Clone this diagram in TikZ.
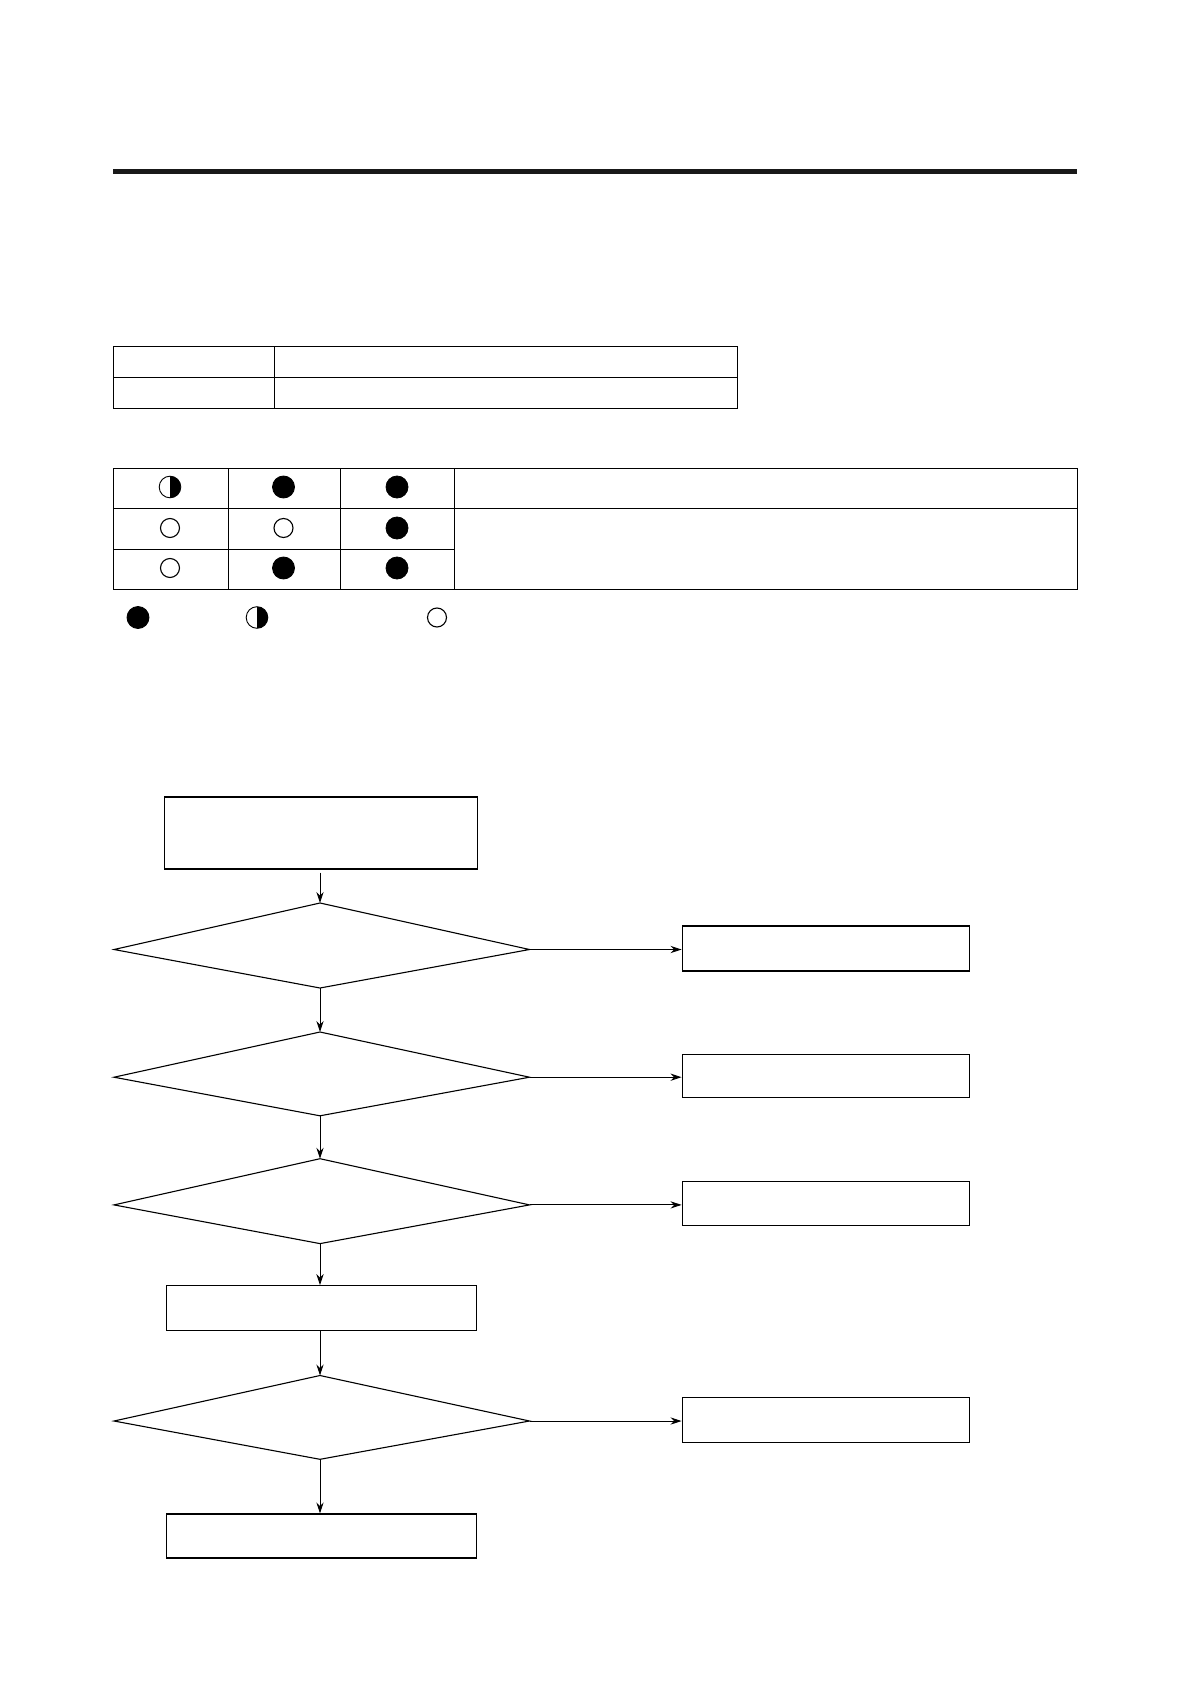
\documentclass[tikz,border=0pt]{standalone}
\usetikzlibrary{arrows.meta}
\begin{document}
\begin{tikzpicture}[x=0.5pt,y=-0.5pt,
  tline/.style={line width=0.5pt},
  fbox/.style={draw,line width=0.55pt,inner sep=0pt,rectangle},
  arr/.style={line width=0.45pt,-{Stealth[length=5.5pt,width=3.6pt]}},
  fdot/.style={circle,fill=black,draw=black,line width=0.4pt,minimum size=11pt,inner sep=0pt},
  odot/.style={circle,draw=black,line width=0.55pt,minimum size=9.5pt,inner sep=0pt},
  hdot/.style={circle,draw=black,line width=0.45pt,minimum size=10.8pt,inner sep=0pt,
    path picture={\fill[black] (path picture bounding box.north) rectangle (path picture bounding box.south east);}}
]
\useasboundingbox (0,0) rectangle (1191,1684);
% top rule
\fill[black!90] (113,169) rectangle (1077,174.5);
% table 1
\draw[tline] (113,347) rectangle (737,409);
\draw[tline] (113,378) -- (737,378);
\draw[tline] (274,347) -- (274,409);
% table 2
\draw[tline] (113,468) rectangle (1077,589);
\draw[tline] (113,508) -- (1077,508);
\draw[tline] (113,549) -- (454,549);
\draw[tline] (228,468) -- (228,589);
\draw[tline] (340,468) -- (340,589);
\draw[tline] (454,468) -- (454,589);
% symbols
\node[hdot] (c11) at (170,487) {};
\node[fdot] (c12) at (283.5,487) {};
\node[fdot] (c13) at (397,487) {};
\node[odot] (c21) at (170,528) {};
\node[odot] (c22) at (283.5,528) {};
\node[fdot] (c23) at (397,528) {};
\node[odot] (c31) at (170,568) {};
\node[fdot] (c32) at (283.5,568) {};
\node[fdot] (c33) at (397,568) {};
% legend
\node[fdot] (l1) at (138,617.5) {};
\node[hdot] (l2) at (257,617.5) {};
\node[odot] (l3) at (437,617.5) {};
% flowchart boxes
\node[fbox,minimum width=156.8pt,minimum height=36pt] (b1) at (321.1,833) {};
\node[fbox,minimum width=155.2pt,minimum height=22.5pt] (b2) at (321.6,1308.2) {};
\node[fbox,minimum width=155.2pt,minimum height=22pt] (b3) at (321.6,1536) {};
\node[fbox,minimum width=143.8pt,minimum height=22.5pt] (r1) at (825.9,948.5) {};
\node[fbox,minimum width=143.8pt,minimum height=21.5pt] (r2) at (825.9,1076) {};
\node[fbox,minimum width=143.8pt,minimum height=22pt] (r3) at (825.9,1203.3) {};
\node[fbox,minimum width=143.8pt,minimum height=22.5pt] (r4) at (825.9,1419.7) {};
% diamonds
\coordinate (d1t) at (320,903);    \coordinate (d1r) at (529.5,949.5);
\coordinate (d1b) at (320,988);    \coordinate (d1l) at (114,949.5);
\coordinate (d2t) at (320,1032);   \coordinate (d2r) at (529.5,1077.2);
\coordinate (d2b) at (320,1115.8); \coordinate (d2l) at (114,1077.2);
\coordinate (d3t) at (320,1158.7); \coordinate (d3r) at (529.5,1204.9);
\coordinate (d3b) at (320,1243.6); \coordinate (d3l) at (114,1204.9);
\coordinate (d4t) at (320,1375.5); \coordinate (d4r) at (529.5,1421);
\coordinate (d4b) at (320,1459.3); \coordinate (d4l) at (114,1421);
\foreach \d in {d1,d2,d3,d4}{
  \draw[line width=0.55pt,line join=miter] (\d t) -- (\d r) -- (\d b) -- (\d l) -- cycle;
}
% connectors
\draw[arr,shorten <=1.5pt] (b1.south -| d1t) -- (d1t);
\draw[arr] (d1b) -- (d2t);
\draw[arr] (d2b) -- (d3t);
\draw[arr] (d3b) -- (b2.north -| d3b);
\draw[arr] (b2.south -| d4t) -- (d4t);
\draw[arr] (d4b) -- (b3.north -| d4b);
\draw[arr] (d1r) -- (d1r -| r1.west);
\draw[arr] (d2r) -- (d2r -| r2.west);
\draw[arr] (d3r) -- (d3r -| r3.west);
\draw[arr] (d4r) -- (d4r -| r4.west);
\end{tikzpicture}
\end{document}
